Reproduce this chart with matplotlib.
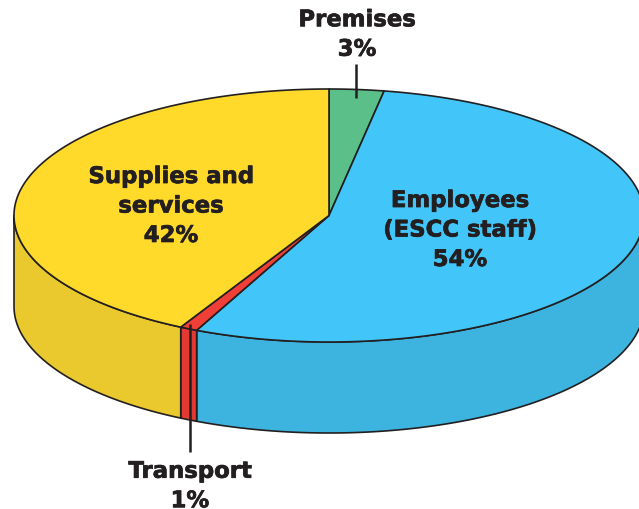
import numpy as np
import matplotlib
matplotlib.use("Agg")
import matplotlib.pyplot as plt
import matplotlib.patheffects as pe

# slices, clockwise from the top of the pie
# (printed labels round these to 3, 54, 1 and 42)
names = ["Premises", "Employees", "Transport", "Supplies"]
shares = [2.8, 54.1, 0.9, 42.2]
top_colors = ["#5bbf8a", "#42c6f9", "#f03f37", "#ffda2b"]
side_colors = ["#52ab7c", "#3db3df", "#e23a32", "#e9c92e"]

# pie geometry in pixels
cx, cy = 329, 216.5
rx, ry = 315, 126.5
depth = 91
ink = "#231f20"


def ellipse(t, dy=0):
    # t is the angle in degrees clockwise from the top
    r = np.radians(t)
    return cx + rx * np.sin(r), cy - ry * np.cos(r) + dy


fig = plt.figure(figsize=(6.39, 5.10), dpi=100)
ax = fig.add_axes([0, 0, 1, 1])
ax.set_xlim(0, 639)
ax.set_ylim(510, 0)
ax.axis("off")

edges = np.concatenate([[0], np.cumsum(shares)]) * 3.6

# side walls, only the front half of the rim shows
for i in range(len(shares)):
    a = max(edges[i], 90)
    b = min(edges[i + 1], 270)
    if a >= b:
        continue
    t = np.linspace(a, b, 200)
    x1, y1 = ellipse(t)
    x2, y2 = ellipse(t[::-1], depth)
    ax.fill(np.r_[x1, x2], np.r_[y1, y2], facecolor=side_colors[i],
            edgecolor=ink, linewidth=1.2, joinstyle="round")

# top of the pie
for i in range(len(shares)):
    t = np.linspace(edges[i], edges[i + 1], 300)
    x, y = ellipse(t)
    ax.fill(np.r_[cx, x], np.r_[cy, y], facecolor=top_colors[i],
            edgecolor=ink, linewidth=1.2, joinstyle="round")

# leader lines
ax.plot([356, 356], [65, 99], color=ink, lw=1.8, solid_capstyle="butt")
ax.plot([189.5, 189.5], [325, 453], color=ink, lw=1.8, solid_capstyle="butt")

# labels
font = dict(family="DejaVu Sans", fontweight="bold", fontsize=16.4, color=ink,
            ha="center", va="center", linespacing=1.36,
            path_effects=[pe.withStroke(linewidth=0.5, foreground=ink)])
ax.text(357, 35.5, "Premises\n3%", **font)
ax.text(460, 231, "Employees\n(ESCC staff)\n54%", **font)
ax.text(171, 207, "Supplies and\nservices\n42%", **font)
ax.text(190, 487, "Transport\n1%", **font)

fig.savefig("out.png", dpi=100)
